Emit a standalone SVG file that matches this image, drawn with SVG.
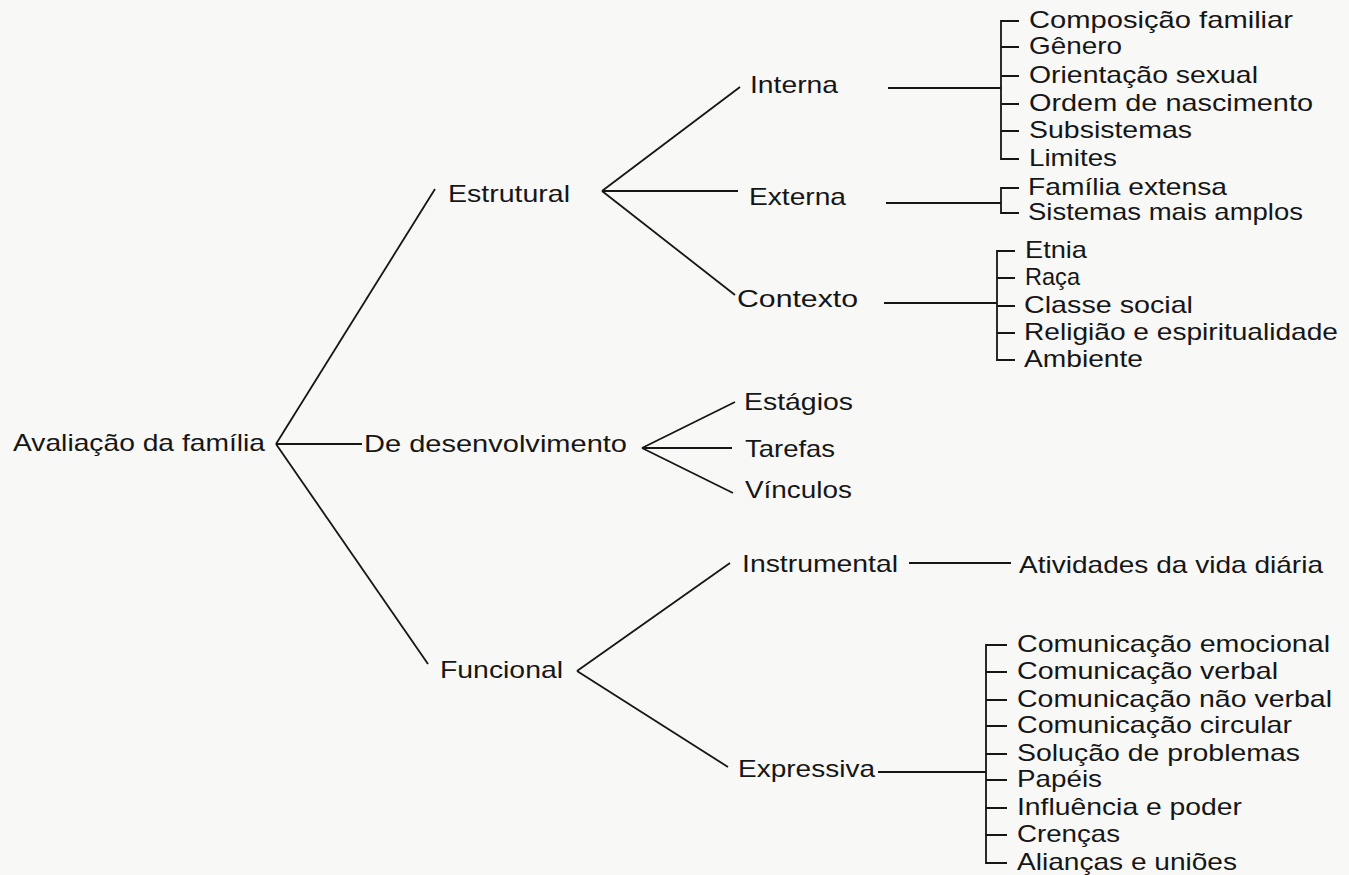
<svg xmlns="http://www.w3.org/2000/svg" width="1349" height="875" viewBox="0 0 1349 875">
<style>
.bg{fill:#f8f8f7}
text{font-family:"Liberation Sans",Arial,Helvetica,sans-serif;font-size:24px;fill:#161616}
.c{fill:none;stroke:#161616;stroke-width:1.8;stroke-linejoin:miter}
</style>
<rect class="bg" x="0" y="0" width="1349" height="875"/>
<g id="connectors" class="c">
<path d="M276,444 L435,189"/>
<path d="M276,444 L362,444"/>
<path d="M276,444 L428,664"/>
<path d="M602,191 L740,87"/>
<path d="M602,191 L738,191"/>
<path d="M602,191 L735,295"/>
<path d="M888,88 L1001,88"/>
<path d="M1019,21 H1001 V159 H1019 M1001,47 H1019 M1001,76 H1019 M1001,104 H1019 M1001,131 H1019"/>
<path d="M886,203 L1001,203"/>
<path d="M1019,188 H1001 V213 H1019"/>
<path d="M884,303 L997,303"/>
<path d="M1015,251 H997 V360 H1015 M997,278 H1015 M997,306 H1015 M997,333 H1015"/>
<path d="M642,448 L735,402"/>
<path d="M642,448 L732,448"/>
<path d="M642,448 L733,493"/>
<path d="M577,671 L730,563"/>
<path d="M577,671 L728,767"/>
<path d="M909,563 L1011,563"/>
<path d="M878,772 L986,772"/>
<path d="M1007,645 H986 V863 H1007 M986,672 H1007 M986,700 H1007 M986,726 H1007 M986,754 H1007 M986,780 H1007 M986,808 H1007 M986,835 H1007"/>
</g>
<g id="avaliacao"><text x="13" y="451" textLength="252" lengthAdjust="spacingAndGlyphs">Avaliação da família</text></g>
<g id="estrutural"><text x="448" y="202" textLength="122" lengthAdjust="spacingAndGlyphs">Estrutural</text></g>
<g id="desenvolvimento"><text x="364" y="452" textLength="263" lengthAdjust="spacingAndGlyphs">De desenvolvimento</text></g>
<g id="funcional"><text x="440" y="678" textLength="123" lengthAdjust="spacingAndGlyphs">Funcional</text></g>
<g id="interna"><text x="750" y="93" textLength="88" lengthAdjust="spacingAndGlyphs">Interna</text></g>
<g id="externa"><text x="749" y="205" textLength="97" lengthAdjust="spacingAndGlyphs">Externa</text></g>
<g id="contexto"><text x="737" y="307" textLength="121" lengthAdjust="spacingAndGlyphs">Contexto</text></g>
<g id="estagios"><text x="744" y="410" textLength="109" lengthAdjust="spacingAndGlyphs">Estágios</text></g>
<g id="tarefas"><text x="745" y="457" textLength="90" lengthAdjust="spacingAndGlyphs">Tarefas</text></g>
<g id="vinculos"><text x="745" y="498" textLength="107" lengthAdjust="spacingAndGlyphs">Vínculos</text></g>
<g id="instrumental"><text x="742" y="572" textLength="156" lengthAdjust="spacingAndGlyphs">Instrumental</text></g>
<g id="expressiva"><text x="738" y="777" textLength="137" lengthAdjust="spacingAndGlyphs">Expressiva</text></g>
<g id="interna-itens">
<text x="1029" y="28" textLength="264" lengthAdjust="spacingAndGlyphs">Composição familiar</text>
<text x="1029" y="54" textLength="93" lengthAdjust="spacingAndGlyphs">Gênero</text>
<text x="1029" y="83" textLength="229" lengthAdjust="spacingAndGlyphs">Orientação sexual</text>
<text x="1029" y="111" textLength="284" lengthAdjust="spacingAndGlyphs">Ordem de nascimento</text>
<text x="1029" y="138" textLength="163" lengthAdjust="spacingAndGlyphs">Subsistemas</text>
<text x="1029" y="166" textLength="88" lengthAdjust="spacingAndGlyphs">Limites</text>
</g>
<g id="externa-itens">
<text x="1028" y="195" textLength="199" lengthAdjust="spacingAndGlyphs">Família extensa</text>
<text x="1028" y="220" textLength="275" lengthAdjust="spacingAndGlyphs">Sistemas mais amplos</text>
</g>
<g id="contexto-itens">
<text x="1025" y="258" textLength="62" lengthAdjust="spacingAndGlyphs">Etnia</text>
<text x="1025" y="285" textLength="55" lengthAdjust="spacingAndGlyphs">Raça</text>
<text x="1024" y="313" textLength="169" lengthAdjust="spacingAndGlyphs">Classe social</text>
<text x="1024" y="340" textLength="314" lengthAdjust="spacingAndGlyphs">Religião e espiritualidade</text>
<text x="1024" y="367" textLength="119" lengthAdjust="spacingAndGlyphs">Ambiente</text>
</g>
<g id="instrumental-itens">
<text x="1019" y="573" textLength="304" lengthAdjust="spacingAndGlyphs">Atividades da vida diária</text>
</g>
<g id="expressiva-itens">
<text x="1017" y="652" textLength="313" lengthAdjust="spacingAndGlyphs">Comunicação emocional</text>
<text x="1017" y="679" textLength="261" lengthAdjust="spacingAndGlyphs">Comunicação verbal</text>
<text x="1017" y="707" textLength="315" lengthAdjust="spacingAndGlyphs">Comunicação não verbal</text>
<text x="1017" y="733" textLength="275" lengthAdjust="spacingAndGlyphs">Comunicação circular</text>
<text x="1017" y="761" textLength="283" lengthAdjust="spacingAndGlyphs">Solução de problemas</text>
<text x="1017" y="787" textLength="85" lengthAdjust="spacingAndGlyphs">Papéis</text>
<text x="1017" y="815" textLength="225" lengthAdjust="spacingAndGlyphs">Influência e poder</text>
<text x="1017" y="842" textLength="103" lengthAdjust="spacingAndGlyphs">Crenças</text>
<text x="1017" y="870" textLength="220" lengthAdjust="spacingAndGlyphs">Alianças e uniões</text>
</g>
</svg>
